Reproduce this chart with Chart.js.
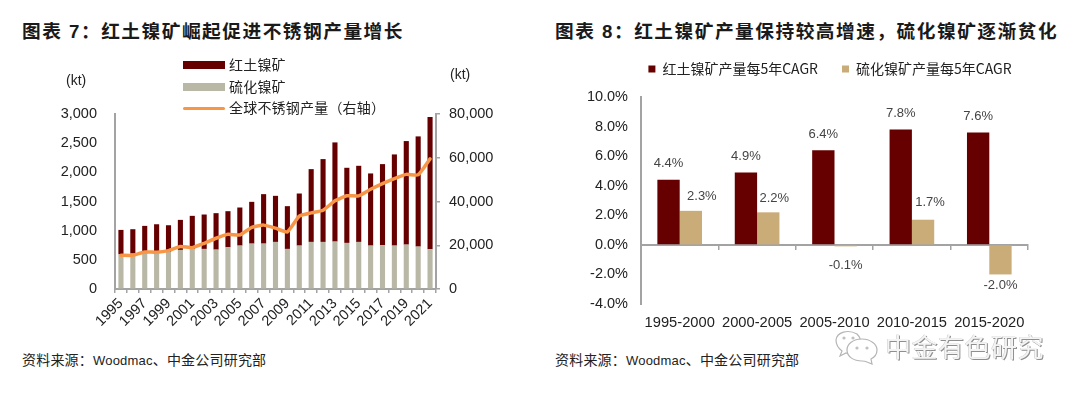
<!DOCTYPE html>
<html lang="zh"><head><meta charset="utf-8">
<script src="https://cdn.jsdelivr.net/npm/chart.js@4"></script>
<style>
html,body{margin:0;padding:0;background:#fff;width:1080px;height:393px;overflow:hidden}
body{position:relative;font-family:"Liberation Sans","Noto Sans CJK SC",sans-serif;color:#222}
.abs{position:absolute;white-space:nowrap}
canvas{position:absolute}
.title{font:bold 18.7px "Liberation Sans","Noto Sans CJK SC",sans-serif;letter-spacing:1.5px;top:20px;line-height:24px;color:#1a1a1a}
.src{font:400 14px "Liberation Sans","Noto Sans CJK SC",sans-serif;letter-spacing:.2px;top:351px;line-height:18px;color:#222}
.src span{font-size:13px}
.unit{font:14px "Liberation Sans",sans-serif;color:#222;line-height:16px}
.lg{left:183px;font:14px "Noto Sans CJK SC",sans-serif;letter-spacing:.2px;line-height:18px;color:#222;display:flex;align-items:center}
.sw{position:absolute;left:0;width:42px}
.wm{left:885px;top:331px;font:26px "Noto Sans CJK SC",sans-serif;letter-spacing:.5px;color:#f4f4f4;line-height:30px;text-shadow:1px 1px 0 #8f8f8f,-.5px -.5px 0 #c4c4c4}
</style></head><body>
<div class="abs title" style="left:22px">图表 7：红土镍矿崛起促进不锈钢产量增长</div>
<div class="abs title" style="left:555px">图表 8：红土镍矿产量保持较高增速，硫化镍矿逐渐贫化</div>
<canvas id="c1" width="540" height="290" style="left:0;top:50px;width:540px;height:290px"></canvas>
<canvas id="c2" width="500" height="302" style="left:580px;top:38px;width:500px;height:302px"></canvas>
<div class="abs unit" style="left:66px;top:72px">(kt)</div>
<div class="abs unit" style="left:450px;top:66px">(kt)</div>
<div id="legend1"></div>
<div class="abs src" style="left:22px">资料来源：<span>Woodmac</span>、中金公司研究部</div>
<div class="abs src" style="left:555px">资料来源：<span>Woodmac</span>、中金公司研究部</div>
<svg class="abs" style="left:833px;top:326px;overflow:visible" width="50" height="50" viewBox="0 0 50 50">
<g fill="#fff" stroke="#b5b5b5" stroke-width="1.2">
<path d="M24 8c-9 -5 -20 -2 -21 6c0 5 2 8 6 11l-2 5l6 -3c3 1 6 1 8 1c5 -7 10 -13 3 -20z"/>
<path d="M29 13c-9 0 -15 5 -15 11c0 7 7 11 15 11c2 0 3 0 5 1l5 2l-1 -5c4 -2 6 -5 6 -9c0 -6 -7 -11 -15 -11z"/>
</g>
<g fill="#c0c0c0"><circle cx="11" cy="12" r="1.6"/><circle cx="20" cy="12" r="1.6"/><circle cx="24" cy="22" r="1.6"/><circle cx="34" cy="22" r="1.6"/></g>
</svg>
<div class="abs wm">中金有色研究</div>
<script>
// ---- Chart 1 data
const years = ['1995','1996','1997','1998','1999','2000','2001','2002','2003','2004','2005','2006','2007','2008','2009','2010','2011','2012','2013','2014','2015','2016','2017','2018','2019','2020','2021'];
const totalOutput = [1013,1025,1082,1110,1093,1185,1254,1277,1300,1334,1397,1494,1626,1597,1420,1637,2055,2227,2513,2078,2112,1981,2141,2307,2536,2616,2948];
const sulfideOutput = [595,607,610,620,635,670,681,687,675,715,744,778,778,807,687,744,807,807,813,790,807,744,750,744,761,727,681];
const lateriteOutput = totalOutput.map((t,i)=>t-sulfideOutput[i]);
const stainlessOutput = [15400,15400,16950,16800,17550,19400,18900,20900,23200,25000,24700,28200,29200,27800,26100,33300,34800,36000,40300,42600,42600,45600,48200,50500,52400,52200,59500];
const leftTicks = [0,500,1000,1500,2000,2500,3000];
const rightTicks = [0,20000,40000,60000,80000];
const series1Names = ['红土镍矿','硫化镍矿','全球不锈钢产量（右轴）'];
// ---- Chart 2 data
const periods = ['1995-2000','2000-2005','2005-2010','2010-2015','2015-2020'];
const lateriteCagr = [4.4,4.9,6.4,7.8,7.6];
const sulfideCagr = [2.3,2.2,-0.1,1.7,-2.0];
const series2Names = ['红土镍矿产量每5年CAGR','硫化镍矿产量每5年CAGR'];

const DARK='#660000', KHAKI='#b9b7a5', ORANGE='#f79646', TAN='#c9ac78', AXIS='#a3a3a3';
const AR='"Liberation Sans",sans-serif';

// left chart legend, built from the series names
const swatches=[{c:DARK,h:8},{c:KHAKI,h:8},{c:ORANGE,h:3}];
const legendTops=[65,87,108];
document.getElementById('legend1').innerHTML=series1Names.map((n,i)=>
 `<div class="abs sw" style="left:183px;top:${legendTops[i]-swatches[i].h/2}px;height:${swatches[i].h}px;background:${swatches[i].c};${i==2?'border-radius:2px':''}"></div>`+
 `<div class="abs lg" style="left:229px;top:${legendTops[i]-10}px">${n}</div>`).join('');

const fixSize=(w)=>function(s){s.width=w;};
const fixH=(h)=>function(s){s.height=h;};

new Chart(document.getElementById('c1'),{
 type:'bar',
 data:{labels:years,datasets:[
  {type:'line',label:series1Names[2],data:stainlessOutput,yAxisID:'y1',borderColor:ORANGE,borderWidth:3.5,pointRadius:0,tension:0.15,order:0,borderCapStyle:'round'},
  {label:series1Names[1],data:sulfideOutput,backgroundColor:KHAKI,stack:'s',barPercentage:.43,categoryPercentage:1,order:1},
  {label:series1Names[0],data:lateriteOutput,backgroundColor:DARK,stack:'s',barPercentage:.43,categoryPercentage:1,order:1}
 ]},
 options:{responsive:false,animation:false,
  layout:{autoPadding:false,padding:{left:0,right:0,top:64,bottom:0}},
  plugins:{legend:{display:false},tooltip:{enabled:false}},
  scales:{
   x:{stacked:true,grid:{offset:true,drawOnChartArea:false,drawTicks:true,tickLength:4,color:AXIS,lineWidth:1.5},border:{color:AXIS,width:2},
      afterFit:fixH(51),
      ticks:{autoSkip:false,maxRotation:45,minRotation:45,padding:2,color:'#222',font:{family:AR,size:14.5},callback(v,i){return i%2==0?this.getLabelForValue(v):'';}}},
   y:{stacked:true,min:0,max:3000,afterBuildTicks(s){s.ticks=leftTicks.map(v=>({value:v}));},afterFit:fixSize(115),
      grid:{drawOnChartArea:false,drawTicks:false},border:{color:AXIS,width:2},
      ticks:{padding:18,color:'#222',font:{family:AR,size:14.5},callback:v=>v.toLocaleString('en-US')}},
   y1:{position:'right',min:0,max:80000,afterBuildTicks(s){s.ticks=rightTicks.map(v=>({value:v}));},afterFit:fixSize(104),
      grid:{drawOnChartArea:false,drawTicks:true,tickLength:4,color:AXIS,lineWidth:1.5},border:{color:AXIS,width:2},
      ticks:{padding:9,color:'#222',font:{family:AR,size:14.5},callback:v=>v.toLocaleString('en-US')}}
  }}
});

// value labels for chart 2: text is the value; nudges are style only
const labelPlugin={id:'valueLabels',
 beforeLayout(chart){
  const l=chart.legend; if(l&&!l._patched){const f=l.fit;l.fit=function(){f.call(this);this.height=59;};l._patched=true;}
 },
 afterDatasetsDraw(chart,args,opts){
 const ctx=chart.ctx;ctx.save();ctx.font='13px '+AR;ctx.fillStyle='#444';ctx.textAlign='center';ctx.textBaseline='middle';
 chart.data.datasets.forEach((ds,d)=>{
  chart.getDatasetMeta(d).data.forEach((bar,i)=>{
   const v=ds.data[i],n=opts.nudge[d][i];
   ctx.fillText(v.toFixed(1)+'%',bar.x+n[0],bar.y+n[1]);
  });
 });
 ctx.restore();
}};

new Chart(document.getElementById('c2'),{
 type:'bar',plugins:[labelPlugin],
 data:{labels:periods,datasets:[
  {label:series2Names[0],data:lateriteCagr,backgroundColor:DARK,barPercentage:1,categoryPercentage:.577},
  {label:series2Names[1],data:sulfideCagr,backgroundColor:TAN,barPercentage:1,categoryPercentage:.577}
 ]},
 options:{responsive:false,animation:false,
  layout:{autoPadding:false,padding:{left:0,right:0,top:0,bottom:36}},
  plugins:{tooltip:{enabled:false},
   legend:{position:'top',labels:{boxWidth:7,boxHeight:7,padding:24,color:'#222',font:{family:'"Noto Sans CJK SC",sans-serif',size:14}}},
   valueLabels:{nudge:[
     [[0,-16],[0,-16],[0,-16],[0,-16],[0,-16]],
     [[11,-14],[6,-14],[0,19],[7,-17],[0,11]]
   ]}
  },
  scales:{
   x:{position:{y:0},afterFit(s){s.paddingLeft=0;s.paddingRight=0;},grid:{offset:true,drawOnChartArea:false,drawTicks:true,tickLength:4,color:AXIS,lineWidth:1.5},border:{color:AXIS,width:2},
      ticks:{padding:65,maxRotation:0,autoSkip:false,color:'#222',font:{family:AR,size:14.7}}},
   y:{min:-4,max:10,afterFit:fixSize(61),grid:{drawOnChartArea:false,drawTicks:false},border:{color:AXIS,width:2},
      ticks:{stepSize:2,padding:13,color:'#222',font:{family:AR,size:14.5},callback:v=>v.toFixed(1)+'%'}},
   yR:{position:'right',min:0,max:1,afterFit:fixSize(52),grid:{display:false},border:{display:false},ticks:{display:false}}
  }}
});
</script>
</body></html>
